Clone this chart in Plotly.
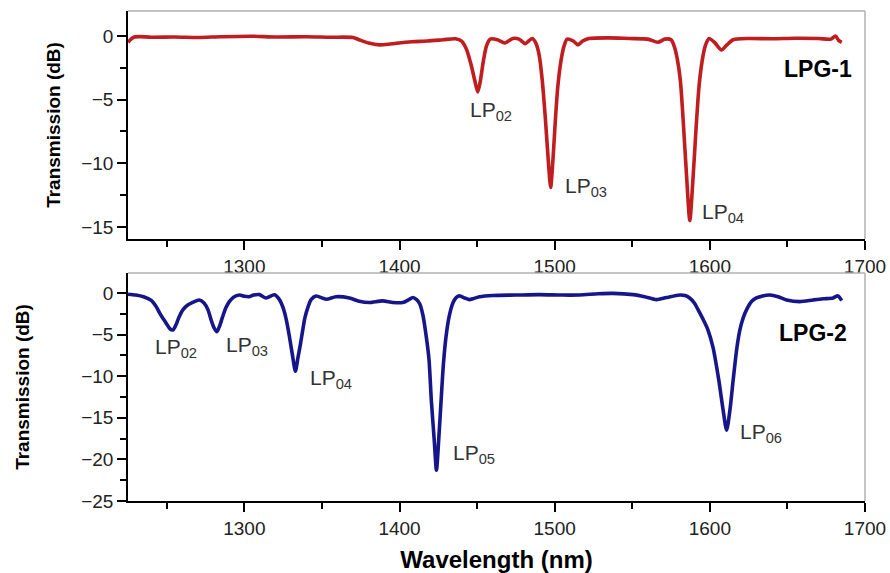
import plotly.graph_objects as go

# LPG-1 transmission spectrum (wavelength in nm, transmission in dB)
lpg1_wavelength = [
    1225, 1227, 1229, 1233, 1240, 1255, 1270, 1285, 1305, 1320, 1340, 1355, 1370,
    1374, 1380, 1387, 1393, 1398, 1408, 1418, 1428, 1436, 1440, 1443, 1446, 1448.5,
    1450.4, 1452, 1454, 1456, 1458.5, 1463, 1468, 1473, 1477, 1481, 1485.5, 1488,
    1490, 1492, 1494, 1496, 1497.4, 1499, 1500.5, 1502, 1504, 1506, 1508, 1512,
    1515, 1518, 1522, 1535, 1548, 1560, 1566.5, 1571, 1575, 1577, 1579, 1581, 1583,
    1585, 1587.1, 1589, 1591, 1593, 1595, 1597, 1599.5, 1603, 1607.5, 1611, 1615,
    1625, 1640, 1655, 1670, 1678, 1681, 1683, 1685,
]
lpg1_transmission = [
    -0.5, -0.25, -0.08, -0.05, -0.1, -0.08, -0.12, -0.06, -0.02, -0.08, -0.06, -0.1, -0.12,
    -0.3, -0.55, -0.7, -0.65, -0.57, -0.45, -0.4, -0.3, -0.22, -0.4, -1.0, -2.2, -3.5,
    -4.4, -3.6, -2.0, -0.8, -0.25, -0.3, -0.55, -0.2, -0.25, -0.6, -0.2, -0.6,
    -1.5, -3.5, -6.5, -10.0, -11.9, -9.5, -6.5, -4.0, -2.0, -0.8, -0.25, -0.4,
    -0.7, -0.4, -0.2, -0.15, -0.2, -0.25, -0.5, -0.25, -0.3, -0.8, -1.8, -3.5, -7.0,
    -11.0, -14.5, -11.5, -7.5, -4.0, -2.0, -0.8, -0.2, -0.5, -1.1, -0.7, -0.3,
    -0.2, -0.22, -0.18, -0.2, -0.25, 0.0, -0.35, -0.5,
]

# LPG-2 transmission spectrum
lpg2_wavelength = [
    1225, 1230, 1235, 1240, 1243, 1246, 1249.5, 1252, 1254, 1256, 1258, 1260.5, 1263.5,
    1267, 1271, 1274, 1276.5, 1278.5, 1280.5, 1282.3, 1284, 1286, 1288, 1290.3, 1293,
    1296.8, 1300, 1303, 1306, 1309.7, 1314, 1319.4, 1322.6, 1325, 1327, 1329, 1331,
    1332.9, 1334.5, 1336, 1337.5, 1339, 1341, 1343, 1346.2, 1352.7, 1359, 1367.7, 1374,
    1380.6, 1389, 1395.7, 1402, 1406, 1408.6, 1411, 1413, 1415, 1417.2, 1419, 1420.5,
    1422.3, 1423.8, 1425.3, 1426.8, 1428.3, 1430, 1432, 1434.4, 1436.5, 1438.7, 1442,
    1445, 1448, 1451.6, 1460, 1475, 1490, 1505, 1516, 1528, 1537.6, 1550.6, 1558,
    1565.6, 1572, 1580.6, 1584, 1587, 1590, 1593.5, 1596, 1598.7, 1602, 1605.8, 1608.5,
    1610.8, 1613, 1615, 1617.5, 1619.4, 1621.5, 1623.7, 1627, 1630, 1634, 1638.7, 1644,
    1649.5, 1658, 1666.5, 1673, 1679.4, 1682.6, 1685,
]
lpg2_transmission = [
    -0.15, -0.25, -0.45, -0.9, -1.6, -2.6, -3.6, -4.3, -4.45, -3.8, -2.85, -2.0, -1.45,
    -1.1, -0.84, -1.2, -2.0, -3.2, -4.2, -4.65, -4.0, -2.85, -1.8, -1.04, -0.5,
    -0.24, -0.4, -0.45, -0.25, -0.2, -0.6, -0.22, -0.8, -1.8, -3.2, -5.2, -7.5,
    -9.4, -7.8, -6.3, -4.6, -3.0, -1.7, -0.8, -0.36, -0.75, -0.45, -0.6, -1.0,
    -1.15, -0.95, -1.15, -1.15, -0.8, -0.55, -0.8, -1.3, -2.6, -5.2, -8.0, -12.9,
    -17.5, -21.3, -17.5, -12.9, -8.5, -5.2, -2.8, -1.2, -0.55, -0.35, -0.6,
    -0.8, -0.65, -0.45, -0.3, -0.25, -0.2, -0.25, -0.24, -0.1, -0.05, -0.2, -0.45,
    -0.8, -0.55, -0.24, -0.3, -0.6, -1.2, -2.4, -3.3, -4.4, -6.5, -10.5, -14.0,
    -16.5, -14.0, -10.5, -6.5, -4.4, -3.0, -2.0, -1.0, -0.6, -0.35, -0.24, -0.45,
    -0.84, -1.04, -0.84, -0.7, -0.6, -0.35, -0.9,
]

# Mode labels: (subscript, wavelength, transmission) anchored at the label's top-left
lpg1_modes = ["02", "03", "04"]
lpg1_mode_pos = [(1444.6, -4.8), (1506.0, -10.8), (1594.2, -12.8)]
lpg2_modes = ["02", "03", "04", "05", "06"]
lpg2_mode_pos = [(1241.9, -4.9), (1287.7, -4.7), (1341.6, -8.6), (1433.6, -17.7), (1618.8, -15.1)]

x_ticks = [1300, 1400, 1500, 1600, 1700]

RED = "#bf1d1f"
BLUE = "#16168a"
FONT = "Liberation Sans, Arial, sans-serif"

fig = go.Figure()
fig.add_trace(go.Scatter(x=lpg1_wavelength, y=lpg1_transmission, mode="lines",
                         line=dict(color=RED, width=3.6, shape="spline", smoothing=0.7),
                         xaxis="x", yaxis="y", showlegend=False))
fig.add_trace(go.Scatter(x=lpg2_wavelength, y=lpg2_transmission, mode="lines",
                         line=dict(color=BLUE, width=3.6, shape="spline", smoothing=0.7),
                         xaxis="x2", yaxis="y2", showlegend=False))

axis_common = dict(showline=True, linecolor="black", linewidth=1.5, ticks="outside",
                   ticklen=9, tickwidth=1.5, tickcolor="black", showgrid=False, zeroline=False,
                   automargin=False,
                   tickfont=dict(family=FONT, size=19, color="#222"))

xaxis_common = dict(axis_common, range=[1225, 1700], tickvals=x_ticks,
                    minor=dict(tickvals=[1250, 1350, 1450, 1550, 1650], ticklen=6,
                               tickwidth=1.5, tickcolor="black", ticks="outside"))

fig.update_layout(
    width=890, height=573,
    margin=dict(l=128, r=25, t=11, b=72, autoexpand=False),
    paper_bgcolor="white", plot_bgcolor="white",
    xaxis=dict(xaxis_common, domain=[0, 1], anchor="y"),
    yaxis=dict(axis_common, domain=[0.5347, 1.0], anchor="x", range=[-15.95, 1.96],
               tickvals=[0, -5, -10, -15],
               minor=dict(tickvals=[-2.5, -7.5, -12.5], ticklen=6, tickwidth=1.5,
                          tickcolor="black", ticks="outside"),
               title=dict(text="Transmission (dB)", standoff=16,
                          font=dict(family=FONT, size=19, color="black", weight="bold"))),
    xaxis2=dict(xaxis_common, domain=[0, 1], anchor="y2",
                title=dict(text="Wavelength (nm)", standoff=22,
                           font=dict(family=FONT, size=24, color="black", weight="bold"))),
    yaxis2=dict(axis_common, domain=[0, 0.4653], anchor="x2", range=[-25, 2.4],
                tickvals=[0, -5, -10, -15, -20, -25],
                minor=dict(tickvals=[-2.5, -7.5, -12.5, -17.5, -22.5], ticklen=6,
                           tickwidth=1.5, tickcolor="black", ticks="outside"),
                title=dict(text="Transmission (dB)", standoff=47,
                           font=dict(family=FONT, size=19, color="black", weight="bold"))),
)

# Light grey frame on the top and right sides of each panel
for xr, yr in (("x", "y"), ("x2", "y2")):
    fig.add_shape(type="line", xref=f"{xr} domain", yref=f"{yr} domain",
                  x0=0, x1=1, y0=1, y1=1, line=dict(color="#b0b0b0", width=1.5))
    fig.add_shape(type="line", xref=f"{xr} domain", yref=f"{yr} domain",
                  x0=1, x1=1, y0=0, y1=1, line=dict(color="#b0b0b0", width=1.5))

label_font = dict(family=FONT, size=21, color="#333")
for sub, (wx, ty) in zip(lpg1_modes, lpg1_mode_pos):
    fig.add_annotation(x=wx, y=ty, xref="x", yref="y", text=f"LP<sub>{sub}</sub>",
                       showarrow=False, xanchor="left", yanchor="top", font=label_font,
                       borderpad=0)
for sub, (wx, ty) in zip(lpg2_modes, lpg2_mode_pos):
    fig.add_annotation(x=wx, y=ty, xref="x2", yref="y2", text=f"LP<sub>{sub}</sub>",
                       showarrow=False, xanchor="left", yanchor="top", font=label_font,
                       borderpad=0)

name_font = dict(family=FONT, size=23, color="black", weight="bold")
fig.add_annotation(x=1647, y=-1.5, xref="x", yref="y", text="LPG-1", showarrow=False,
                   xanchor="left", yanchor="top", font=name_font, borderpad=0)
fig.add_annotation(x=1644, y=-3.1, xref="x2", yref="y2", text="LPG-2", showarrow=False,
                   xanchor="left", yanchor="top", font=name_font, borderpad=0)

fig.write_html("out.html")
